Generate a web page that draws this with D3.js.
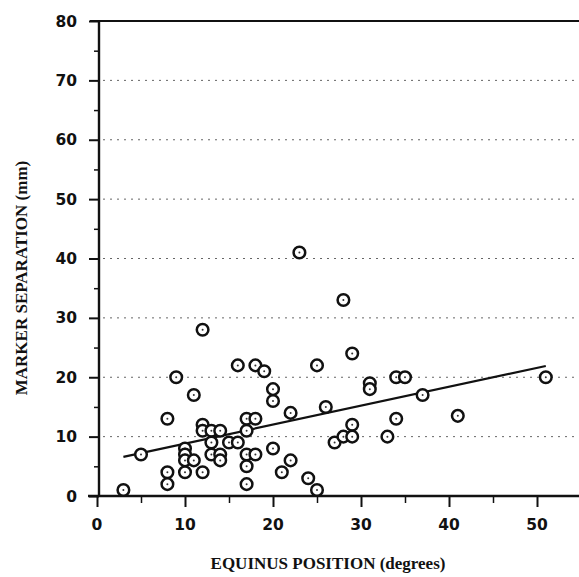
<!DOCTYPE html>
<html lang="en">
<head>
    <meta charset="UTF-8">
    <title>marker separation vs equinus position</title>
    <script src="https://d3js.org/d3.v7.min.js"></script>
    <style>
        body{
            margin: 0;
            background: #ffffff;
        }
        .tick_label{
            font-family: "DejaVu Sans", sans-serif;
            font-weight: bold;
            font-size: 15.5px;
            fill: #111;
        }
        .axis_title{
            font-family: "Liberation Serif", "Times New Roman", serif;
            font-weight: bold;
            font-size: 17px;
            fill: #111;
        }
    </style>
</head>
<body>
<svg width="579" height="577" id="main"></svg>

<script>
    // equinus position (degrees) and marker separation (mm)
    let equinus = [3, 5, 8, 8, 8, 9, 10, 10, 10, 10, 11, 11, 12, 12, 12, 12, 13, 13, 13,
        14, 14, 14, 15, 16, 16, 17, 17, 17, 17, 17, 18, 18, 18, 19, 20, 20, 20, 21,
        22, 22, 23, 24, 25, 25, 26, 27, 28, 28, 29, 29, 29, 31, 31, 33, 34, 34, 35,
        37, 41, 51]
    let separation = [1, 7, 13, 4, 2, 20, 8, 7, 6, 4, 17, 6, 28, 12, 11, 4, 11, 9, 7,
        11, 7, 6, 9, 9, 22, 13, 11, 7, 5, 2, 22, 13, 7, 21, 18, 16, 8, 4,
        14, 6, 41, 3, 22, 1, 15, 9, 33, 10, 24, 12, 10, 19, 18, 10, 20, 13, 20,
        17, 13.5, 20]
    // end points of the fitted regression line
    let fit_x = [3, 51]
    let fit_y = [6.6, 21.9]

    let x_ticks = [0, 10, 20, 30, 40, 50]
    let x_minor = [5, 15, 25, 35, 45]
    let y_ticks = [0, 10, 20, 30, 40, 50, 60, 70, 80]
    let y_minor = [5, 15, 25, 35, 45, 55, 65, 75]
    let grid_values = [10, 20, 30, 40, 50, 60, 70]

    let svg = d3.select("#main")

    let x = d3.scaleLinear().domain([0, 55]).range([97, 581])
    let y = d3.scaleLinear().domain([0, 80]).range([496, 21])
    let x_left = 99

    // dotted grid lines
    svg.append("g")
        .selectAll("line")
        .data(grid_values)
        .join("line")
        .attr("x1", x_left + 4)
        .attr("x2", 579)
        .attr("y1", d => y(d))
        .attr("y2", d => y(d))
        .attr("stroke", "#666")
        .attr("stroke-width", 1)
        .attr("stroke-dasharray", "2,5")

    // top frame line
    svg.append("line")
        .attr("x1", 90).attr("x2", 579)
        .attr("y1", y(80)).attr("y2", y(80))
        .attr("stroke", "#111").attr("stroke-width", 2.2)

    // y axis
    let y_axis = d3.axisLeft(y).tickValues(y_ticks).tickSize(10).tickFormat("")
    svg.append("g")
        .attr("transform", "translate(" + x_left + ",0)")
        .call(y_axis)
        .call(g => g.select(".domain").remove())
        .call(g => g.selectAll(".tick line").attr("stroke", "#111").attr("stroke-width", 2))
    svg.append("g")
        .attr("transform", "translate(" + x_left + ",0)")
        .call(d3.axisLeft(y).tickValues(y_minor).tickSize(5).tickFormat(""))
        .call(g => g.select(".domain").remove())
        .call(g => g.selectAll(".tick line").attr("stroke", "#111").attr("stroke-width", 1.5))
    svg.append("line")
        .attr("x1", x_left).attr("x2", x_left)
        .attr("y1", y(80)).attr("y2", y(0))
        .attr("stroke", "#111").attr("stroke-width", 2.4)

    svg.append("g")
        .selectAll("text")
        .data(y_ticks)
        .join("text")
        .attr("class", "tick_label")
        .attr("x", 77)
        .attr("y", d => y(d) + 5.5)
        .attr("text-anchor", "end")
        .text(d => d)

    // x axis
    svg.append("g")
        .attr("transform", "translate(0," + y(0) + ")")
        .call(d3.axisBottom(x).tickValues(x_ticks).tickSize(11).tickFormat(""))
        .call(g => g.select(".domain").remove())
        .call(g => g.selectAll(".tick line").attr("stroke", "#111").attr("stroke-width", 2))
    svg.append("g")
        .attr("transform", "translate(0," + y(0) + ")")
        .call(d3.axisBottom(x).tickValues(x_minor).tickSize(7).tickFormat(""))
        .call(g => g.select(".domain").remove())
        .call(g => g.selectAll(".tick line").attr("stroke", "#111").attr("stroke-width", 1.5))
    svg.append("line")
        .attr("x1", 88).attr("x2", 579)
        .attr("y1", y(0)).attr("y2", y(0))
        .attr("stroke", "#111").attr("stroke-width", 2.4)

    svg.append("g")
        .selectAll("text")
        .data(x_ticks)
        .join("text")
        .attr("class", "tick_label")
        .attr("x", d => x(d))
        .attr("y", 530)
        .attr("text-anchor", "middle")
        .text(d => d)

    // axis titles
    svg.append("text")
        .attr("class", "axis_title")
        .attr("x", 328)
        .attr("y", 569)
        .attr("text-anchor", "middle")
        .text("EQUINUS POSITION (degrees)")
    svg.append("text")
        .attr("class", "axis_title")
        .attr("transform", "translate(27,278) rotate(-90)")
        .attr("text-anchor", "middle")
        .text("MARKER SEPARATION (mm)")

    // regression line
    svg.append("line")
        .attr("x1", x(fit_x[0])).attr("x2", x(fit_x[1]))
        .attr("y1", y(fit_y[0])).attr("y2", y(fit_y[1]))
        .attr("stroke", "#111").attr("stroke-width", 2.2)

    // open circle markers with a dot in the middle
    let points = d3.zip(equinus, separation)
    let marks = svg.append("g")
        .selectAll("g")
        .data(points)
        .join("g")
        .attr("transform", d => "translate(" + x(d[0]) + "," + y(d[1]) + ")")
    marks.append("circle")
        .attr("r", 5.8)
        .attr("fill", "white")
        .attr("stroke", "#111")
        .attr("stroke-width", 2.5)
    marks.append("circle")
        .attr("r", 1)
        .attr("fill", "#333")
</script>

</body>
</html>
